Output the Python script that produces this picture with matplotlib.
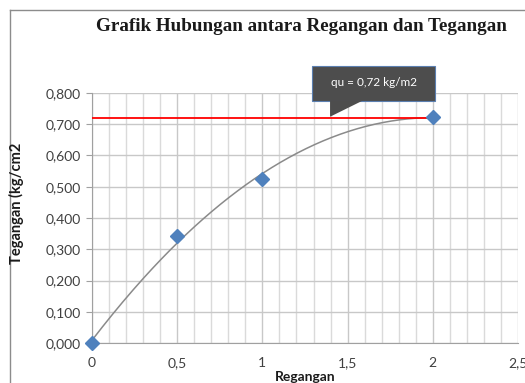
import matplotlib
matplotlib.use("Agg")
import matplotlib.pyplot as plt
from matplotlib.patches import Polygon, Rectangle
from matplotlib.lines import Line2D
import numpy as np

# data hasil uji tekan bebas
regangan = [0, 0.5, 1.0, 2.0]
tegangan = [0.000, 0.343, 0.525, 0.724]
qu = 0.72

x_ticks = [0, 0.5, 1, 1.5, 2, 2.5]
x_labels = ["0", "0,5", "1", "1,5", "2", "2,5"]
y_ticks = [0.0, 0.1, 0.2, 0.3, 0.4, 0.5, 0.6, 0.7, 0.8]
y_labels = ["0,000", "0,100", "0,200", "0,300", "0,400", "0,500", "0,600", "0,700", "0,800"]

tick_font = "Lato"

fig = plt.figure(figsize=(5.25, 3.83), dpi=100)
ax = fig.add_axes([0.1752, 0.1044, 0.8115, 0.6528])

# frame around the chart area
fig.add_artist(Line2D([10/525, 10/525], [0, 1 - 10/383], transform=fig.transFigure, color="#8c8c8c", lw=1))
fig.add_artist(Line2D([10/525, 1], [1 - 10/383, 1 - 10/383], transform=fig.transFigure, color="#8c8c8c", lw=1))

# grid
ax.set_xlim(0, 2.5)
ax.set_ylim(0, 0.8)
ax.set_xticks(x_ticks)
ax.set_xticks(np.arange(0, 2.51, 0.1), minor=True)
ax.set_yticks(y_ticks)
ax.set_xticklabels(x_labels, fontfamily=tick_font, fontsize=10, color="#404040")
ax.set_yticklabels(y_labels, fontfamily=tick_font, fontsize=10, color="#404040")
ax.grid(which="major", color="#c8c8c8", lw=1)
ax.grid(which="minor", axis="x", color="#dadada", lw=1)
ax.tick_params(which="major", axis="y", length=4, color="#a0a0a0", pad=4)
ax.tick_params(which="major", axis="x", length=0, pad=10)
ax.tick_params(which="minor", length=0)
for s in ["top", "right"]:
    ax.spines[s].set_visible(False)
ax.spines["left"].set_color("#a0a0a0")
ax.spines["bottom"].set_color("#a0a0a0")
ax.set_axisbelow(True)

# polynomial trendline (orde 2)
coef = np.polyfit(regangan, tegangan, 2)
xs = np.linspace(0, 2, 200)
ax.plot(xs, np.polyval(coef, xs), color="#8a8a8a", lw=1.1, zorder=3)

# garis qu
ax.plot([0, 2], [qu, qu], color="#ff0000", lw=1.3, zorder=4)

ax.plot(regangan, tegangan, linestyle="none", marker="D", markersize=7.5,
        color="#4f81bd", zorder=5, clip_on=False)

# callout qu
box_x0, box_x1 = 1.291, 2.013
box_y0, box_y1 = 0.774, 0.886
ax.add_patch(Rectangle((box_x0, box_y0), box_x1 - box_x0, box_y1 - box_y0,
                       facecolor="#4d4d4d", edgecolor="#5b7fb0", lw=0.8,
                       clip_on=False, zorder=6))
ax.add_patch(Polygon([[1.397, box_y0 + 0.002], [1.397, qu + 0.004], [1.59, box_y0 + 0.002]],
                     closed=True, facecolor="#4d4d4d", edgecolor="none",
                     clip_on=False, zorder=7))
ax.text((box_x0 + box_x1) / 2, (box_y0 + box_y1) / 2 + 0.004, "qu = 0,72 kg/m2",
        color="white", fontsize=8.5, fontfamily=tick_font, ha="center", va="center",
        zorder=8, clip_on=False)

fig.text(0.575, 0.93, "Grafik Hubungan antara Regangan dan Tegangan",
         fontfamily="Liberation Serif", fontweight="bold", fontsize=13.8,
         ha="center", va="center", color="#1a1a1a")
fig.text(0.032, 0.47, "Tegangan (kg/cm2", rotation=90, fontfamily=tick_font,
         fontweight="bold", fontsize=10.5, ha="center", va="center", color="#1a1a1a")
fig.text(0.581, 0.016, "Regangan", fontfamily=tick_font, fontweight="bold",
         fontsize=10, ha="center", va="center", color="#1a1a1a")

fig.savefig("out.png", dpi=100)
